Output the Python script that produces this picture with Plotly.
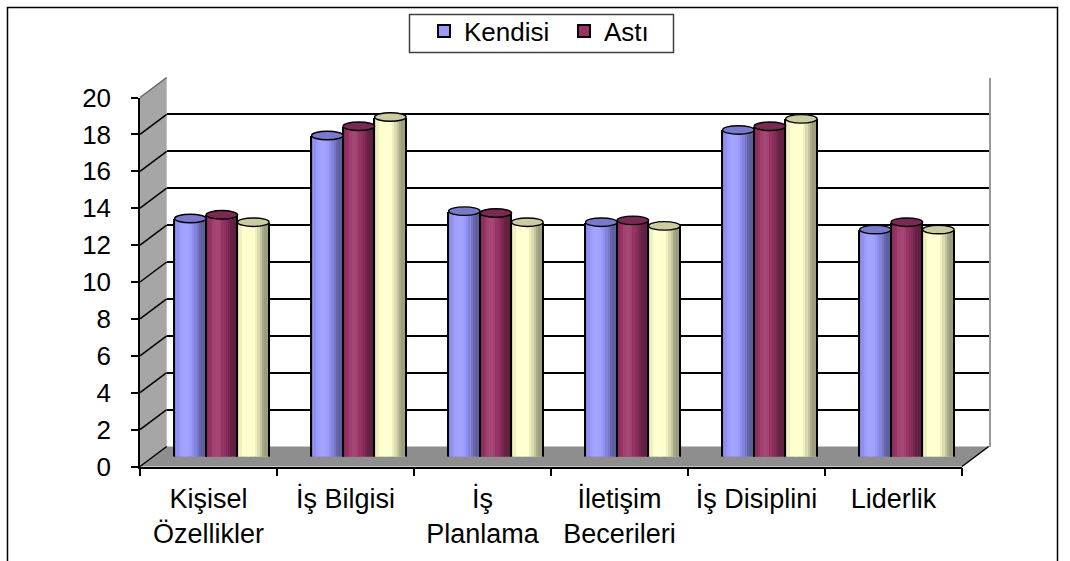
import math
import plotly.graph_objects as go

# ---- data -------------------------------------------------------------
categories = ["Kişisel<br>Özellikler", "İş Bilgisi", "İş<br>Planlama",
              "İletişim<br>Becerileri", "İş Disiplini", "Liderlik"]
kendisi = [12.9, 17.4, 13.3, 12.7, 17.7, 12.3]
asti = [13.1, 17.9, 13.2, 12.8, 17.9, 12.7]
ustu = [12.7, 18.4, 12.7, 12.5, 18.3, 12.3]
y_ticks = list(range(0, 21, 2))

series = [
    ("Kendisi", kendisi, "#9999FF", True),
    ("Astı", asti, "#993366", True),
    ("Üstü", ustu, "#FFFFCC", False),
]

# ---- geometry of the pseudo-3D frame (pixels) --------------------------
W, H = 1070, 561
FX0, FX1 = 140.0, 962.0      # front plane x extent
FY0, FY20 = 466.5, 97.5      # front plane y of value 0 and 20
DX, DY = 26.7, -20.0         # depth offset of the back wall
FONT = "Liberation Sans, Arial, sans-serif"


def px(x):
    return x / W


def py(y):
    return 1 - y / H


def yf(v):
    return FY0 + (FY20 - FY0) * v / 20.0


BAR_W = 0.23                 # width of one cylinder, category units
N_STRIPS = 14
EDGE_W = 1.4 / ((FX1 - FX0) / 6)
ELL_H = 8.5 / ((FY0 - FY20) / 20)


def hex_rgb(h):
    h = h.lstrip("#")
    return [int(h[i:i + 2], 16) for i in (0, 2, 4)]


def shade(color, k):
    r = []
    for c in hex_rgb(color):
        v = c * k if k <= 1 else c + (255 - c) * (k - 1) * 1.5
        r.append(max(0, min(255, int(round(v)))))
    return "rgb(%d,%d,%d)" % tuple(r)


def cyl_k(t):
    theta = (t - 0.5) * math.pi
    return 0.62 + 0.45 * max(0.0, math.cos(theta + 0.45))


fig = go.Figure()
shapes = []
xs = list(range(len(categories)))

# empty traces so the wall and front-axis subplots get drawn
for xa, ya in (("x", "y"), ("x2", "y2")):
    fig.add_trace(go.Scatter(x=[None], y=[None], xaxis=xa, yaxis=ya, mode="markers",
                             showlegend=False, hoverinfo="skip"))

# ---- cylinders --------------------------------------------------------
for s, (name, vals, color, in_legend) in enumerate(series):
    centre = (s - 1) * BAR_W
    left = centre - BAR_W / 2
    # bottom caps sit under the bodies
    for i, v in enumerate(vals):
        shapes.append(dict(type="circle", xref="x3", yref="y3", layer="below",
                           x0=i + left, x1=i + left + BAR_W,
                           y0=-ELL_H / 2, y1=ELL_H / 2,
                           fillcolor=shade(color, 0.85),
                           line=dict(color="black", width=1.4)))
    # shaded body as narrow vertical strips
    sw = BAR_W / N_STRIPS
    for j in range(N_STRIPS):
        t = (j + 0.5) / N_STRIPS
        fig.add_trace(go.Bar(
            x=xs, y=vals, xaxis="x3", yaxis="y3",
            offset=left + j * sw - sw * 0.04, width=sw * 1.08,
            marker=dict(color=shade(color, cyl_k(t)), line=dict(width=0)),
            showlegend=False, hoverinfo="skip"))
    # outline edges
    for off in (left - EDGE_W / 2, left + BAR_W - EDGE_W / 2):
        fig.add_trace(go.Bar(
            x=xs, y=vals, xaxis="x3", yaxis="y3",
            offset=off, width=EDGE_W,
            marker=dict(color="black", line=dict(width=0)),
            showlegend=False, hoverinfo="skip"))
    # top caps
    for i, v in enumerate(vals):
        shapes.append(dict(type="circle", xref="x3", yref="y3", layer="above",
                           x0=i + left, x1=i + left + BAR_W,
                           y0=v - ELL_H / 2, y1=v + ELL_H / 2,
                           fillcolor=shade(color, 0.8),
                           line=dict(color="black", width=1.4)))
    # legend entry
    fig.add_trace(go.Bar(
        x=[None], y=[None], xaxis="x3", yaxis="y3", name=name,
        marker=dict(color=color, line=dict(color="black", width=2)),
        showlegend=in_legend, hoverinfo="skip"))

# ---- walls and floor --------------------------------------------------
wall = "M{},{} L{},{} L{},{} L{},{} Z".format(
    px(FX0), py(FY0), px(FX0), py(FY20),
    px(FX0 + DX), py(FY20 + DY), px(FX0 + DX), py(FY0 + DY))
shapes.insert(0, dict(type="path", xref="paper", yref="paper", layer="below",
                      path=wall, fillcolor="#a6a6a6", line=dict(width=0)))
floor = "M{},{} L{},{} L{},{} L{},{} Z".format(
    px(FX0), py(FY0), px(FX1), py(FY0),
    px(FX1 + DX), py(FY0 + DY), px(FX0 + DX), py(FY0 + DY))
shapes.insert(1, dict(type="path", xref="paper", yref="paper", layer="below",
                      path=floor, fillcolor="#8e8e8e", line=dict(width=0)))
for v in y_ticks:
    shapes.append(dict(type="line", xref="paper", yref="paper", layer="below",
                       x0=px(FX0), y0=py(yf(v)), x1=px(FX0 + DX), y1=py(yf(v) + DY),
                       line=dict(color="#666" if v == 20 else "black", width=1.5)))
shapes.append(dict(type="line", xref="paper", yref="paper", layer="below",
                   x0=px(FX1), y0=py(FY0), x1=px(FX1 + DX), y1=py(FY0 + DY),
                   line=dict(color="black", width=1.5)))
# chart frame and legend box
shapes.append(dict(type="rect", xref="paper", yref="paper", layer="above",
                   x0=px(7.5), x1=px(1057.5), y0=py(570), y1=py(7.5),
                   line=dict(color="black", width=1.5)))
shapes.append(dict(type="rect", xref="paper", yref="paper", layer="below",
                   x0=px(409.5), x1=px(673.5), y0=py(52.5), y1=py(14.5),
                   fillcolor="white", line=dict(color="#404040", width=1.5)))

fig.update_layout(
    width=W, height=H,
    margin=dict(l=0, r=0, t=0, b=0, autoexpand=False),
    paper_bgcolor="white", plot_bgcolor="rgba(0,0,0,0)",
    barmode="overlay", bargap=0,
    font=dict(family=FONT, size=26, color="black"),
    shapes=shapes,
    showlegend=True,
    legend=dict(orientation="h", x=px(424), y=py(7.5), xanchor="left", yanchor="top",
                borderwidth=0, bgcolor="rgba(0,0,0,0)",
                font=dict(family=FONT, size=26), itemwidth=30,
                entrywidth=95, entrywidthmode="pixels"),
    # back wall with its gridlines
    xaxis=dict(domain=[px(FX0 + DX), px(FX1 + DX)], range=[0, 1], anchor="y",
               showgrid=False, zeroline=False, showticklabels=False, ticks="",
               showline=False, fixedrange=True, automargin=False),
    yaxis=dict(domain=[py(FY0 + DY), py(FY20 + DY)], range=[0, 20], anchor="x",
               tickvals=y_ticks, showgrid=True, gridcolor="black", gridwidth=1.5,
               zeroline=False, showticklabels=False, ticks="", side="right",
               showline=True, linecolor="#9a9a9a", linewidth=2, fixedrange=True,
               automargin=False),
    # front axes
    xaxis2=dict(domain=[px(FX0), px(FX1)], range=[0, 6], anchor="y2",
                tickvals=[i + 0.5 for i in xs], ticktext=categories, ticks="",
                minor=dict(tickvals=list(range(7)), ticks="outside", ticklen=8,
                           tickcolor="black", tickwidth=1.5, showgrid=False),
                showgrid=False, zeroline=False, showline=True, linecolor="black",
                linewidth=1.5, ticklabelstandoff=7, fixedrange=True,
                automargin=False, tickfont=dict(family=FONT, size=27)),
    yaxis2=dict(domain=[py(FY0), py(FY20)], range=[0, 20], anchor="x2",
                tickvals=y_ticks, ticks="outside", ticklen=7, tickcolor="black",
                tickwidth=1.5, showgrid=False, zeroline=False, showline=True,
                linecolor="black", linewidth=1.5, ticklabelstandoff=15,
                fixedrange=True, automargin=False,
                tickfont=dict(family=FONT, size=26)),
    # mid-depth plane holding the cylinders
    xaxis3=dict(domain=[px(FX0 + DX / 2), px(FX1 + DX / 2)], range=[-0.5, 5.5],
                anchor="y3", visible=False, fixedrange=True),
    yaxis3=dict(domain=[py(FY0 + DY / 2), py(FY20 + DY / 2)], range=[0, 20],
                anchor="x3", visible=False, fixedrange=True),
)

fig.write_html("out.html")
